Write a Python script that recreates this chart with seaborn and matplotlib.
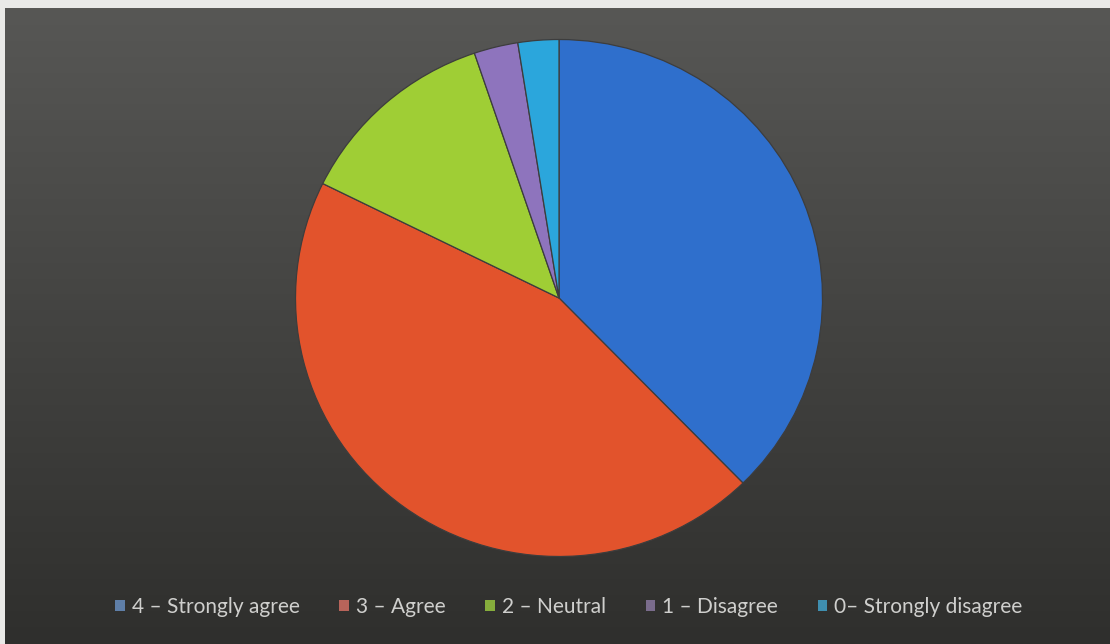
import numpy as np
import seaborn as sns
import matplotlib.pyplot as plt
from matplotlib.patches import Patch

labels = ['4 – Strongly agree', '3 – Agree', '2 – Neutral', '1 – Disagree', '0– Strongly disagree']
shares = [37.7, 44.6, 12.5, 2.7, 2.5]
slice_colors = ['#2f6fcc', '#e2532c', '#9fce35', '#8e74bd', '#2ba6dc']
legend_colors = ['#5f7fa8', '#b8645a', '#86ad3c', '#7a6c8c', '#3f8fb0']

sns.set_theme(style='dark')
plt.rcParams['font.family'] = ['Lato', 'DejaVu Sans']

fig = plt.figure(figsize=(11.1, 6.44), dpi=100, facecolor='#e9e9e7')

# photographed dark background with a soft vertical gradient
bg = fig.add_axes([5 / 1110, 0, 1105 / 1110, 636 / 644])
grad = np.linspace(0, 1, 256).reshape(-1, 1)
top = np.array([0x57, 0x57, 0x55]) / 255
bottom = np.array([0x2f, 0x2f, 0x2d]) / 255
img = top + (bottom - top) * grad[..., None]
bg.imshow(img, aspect='auto', extent=[0, 1, 0, 1])
bg.set_axis_off()

# pie area: centre ~(559, 298) px, slightly wider than tall in the photo
w, h = 527, 517
ax = fig.add_axes([(559 - w / 2) / 1110, (346 - h / 2) / 644, w / 1110, h / 644])
ax.pie(shares, colors=slice_colors, startangle=90, counterclock=False,
       wedgeprops=dict(edgecolor='#3d3d3d', linewidth=0.9))
ax.set_aspect('auto')
ax.set_xlim(-1, 1)
ax.set_ylim(-1, 1)
ax.set_axis_off()

handles = [Patch(facecolor=c, edgecolor='none') for c in legend_colors]
fig.legend(handles, labels, loc='center', bbox_to_anchor=(569 / 1110, 37 / 644),
           ncol=5, frameon=False, fontsize=15, labelcolor='#cfcfcd',
           handlelength=0.45, handleheight=0.45, handletextpad=0.35, columnspacing=1.9)

fig.savefig('out.png', dpi=100, facecolor=fig.get_facecolor())
